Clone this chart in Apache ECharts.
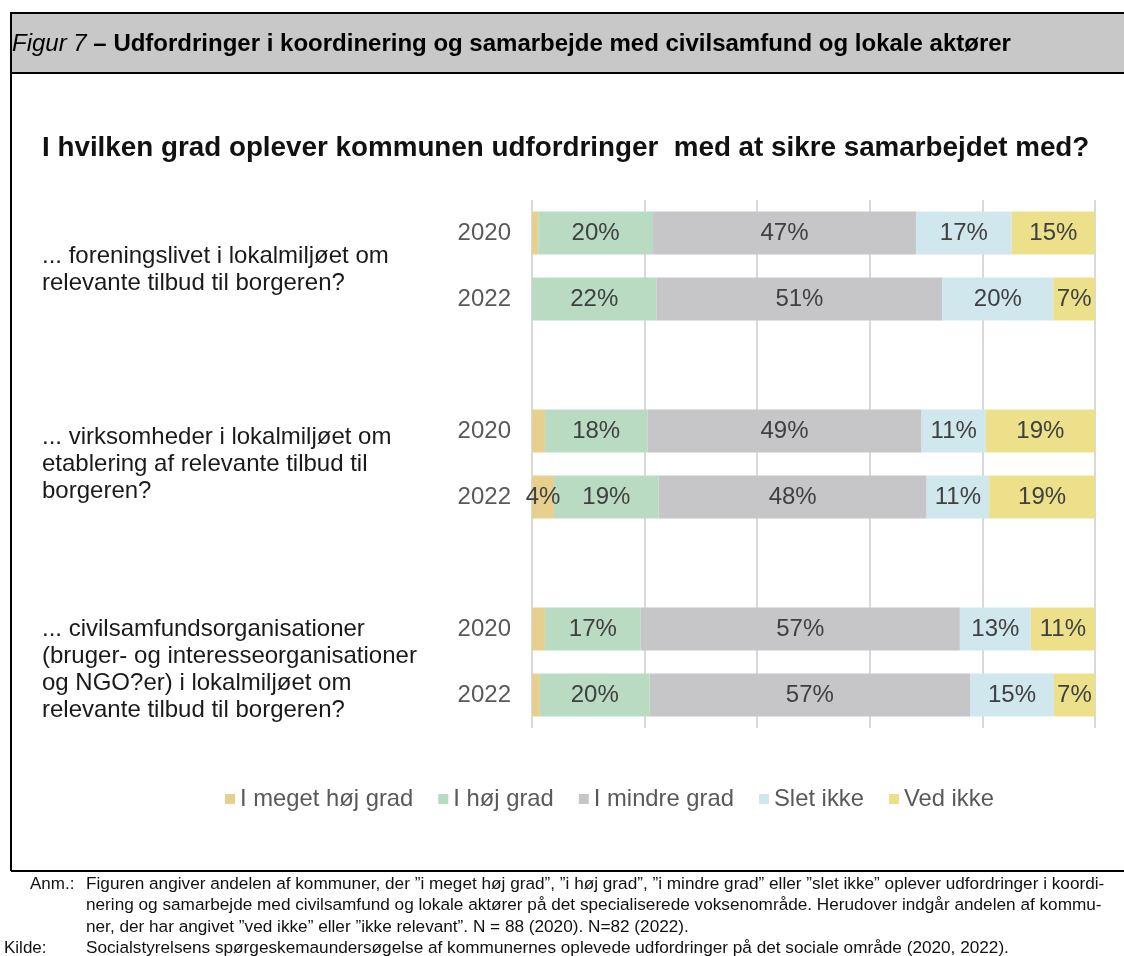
<!DOCTYPE html>
<html>
<head>
<meta charset="utf-8">
<script src="https://cdn.jsdelivr.net/npm/echarts@6/dist/echarts.min.js"></script>
<style>
html,body{margin:0;padding:0;background:#fff;}
#c{width:1124px;height:956px;}
</style>
</head>
<body>
<div id="c"></div>
<script>
// ---- data ----
const years = ['2020', '2022', '', '2020', '2022', '', '2020', '2022'];
const seriesNames = ['I meget høj grad', 'I høj grad', 'I mindre grad', 'Slet ikke', 'Ved ikke'];
const veryHigh = [1.1, 0, null, 2.3, 3.9, null, 2.3, 1.4];
const high     = [20.4, 22.1, null, 18.2, 18.6, null, 17.0, 19.5];
const lower    = [46.7, 50.8, null, 48.7, 47.6, null, 56.7, 56.9];
const notAtAll = [17.0, 19.7, null, 11.4, 11.1, null, 12.6, 14.9];
const dontKnow = [14.8, 7.4, null, 19.4, 18.8, null, 11.4, 7.3];
const questions = [
  '... foreningslivet i lokalmiljøet om\nrelevante tilbud til borgeren?',
  '... virksomheder i lokalmiljøet om\netablering af relevante tilbud til\nborgeren?',
  '... civilsamfundsorganisationer\n(bruger- og interesseorganisationer\nog NGO?er) i lokalmiljøet om\nrelevante tilbud til borgeren?'
];
const xTicks = [0, 20, 40, 60, 80, 100];
const headerTitle = 'Figur 7';
const headerRest = ' – Udfordringer i koordinering og samarbejde med civilsamfund og lokale aktører';
const chartTitle = 'I hvilken grad oplever kommunen udfordringer  med at sikre samarbejdet med?';
const noteLines = [
  'Figuren angiver andelen af kommuner, der ”i meget høj grad”, ”i høj grad”, ”i mindre grad” eller ”slet ikke” oplever udfordringer i koordi-',
  'nering og samarbejde med civilsamfund og lokale aktører på det specialiserede voksenområde. Herudover indgår andelen af kommu-',
  'ner, der har angivet ”ved ikke” eller ”ikke relevant”. N = 88 (2020). N=82 (2022).'
];
const sourceLine = 'Socialstyrelsens spørgeskemaundersøgelse af kommunernes oplevede udfordringer på det sociale område (2020, 2022).';

// ---- chart ----
const colors = ['#E7D08F', '#B8DBC1', '#C6C6C8', '#D0E7EE', '#ECE08B'];
const FONT = 'Liberation Sans, Arial, sans-serif';
const seriesData = [veryHigh, high, lower, notAtAll, dontKnow];

const chart = echarts.init(document.getElementById('c'), null, {renderer: 'canvas'});

const series = seriesNames.map((name, i) => ({
  name: name,
  type: 'bar',
  stack: 'total',
  barWidth: 43,
  data: seriesData[i],
  itemStyle: {color: colors[i]},
  label: {
    show: true,
    position: 'inside',
    fontFamily: FONT,
    fontSize: 24,
    color: '#404040',
    formatter: p => (p.value == null || p.value < 3) ? '' : Math.round(p.value) + '%'
  },
  emphasis: {disabled: true}
}));

const qCenters = [269.5, 464.5, 669.5];
const txt = (x, y, text, size, extra) => ({
  type: 'text', x: x, y: y,
  style: Object.assign({text: text, fontFamily: FONT, fontSize: size, fill: '#111', verticalAlign: 'middle', align: 'left'}, extra || {})
});
const graphics = [
  {type: 'rect', shape: {x: 11, y: 13, width: 1120, height: 60}, style: {fill: '#C8C8C8', stroke: '#000', lineWidth: 2}, z: 0},
  {type: 'line', shape: {x1: 11, y1: 73, x2: 11, y2: 871}, style: {stroke: '#000', lineWidth: 2}},
  {type: 'line', shape: {x1: 11, y1: 871, x2: 1124, y2: 871}, style: {stroke: '#000', lineWidth: 2}},
  {type: 'text', x: 12, y: 44, z: 5, style: {
    text: '{i|' + headerTitle + '}{b|' + headerRest + '}',
    verticalAlign: 'middle',
    rich: {
      i: {fontFamily: FONT, fontSize: 24, fontStyle: 'italic', fill: '#000'},
      b: {fontFamily: FONT, fontSize: 24, fontWeight: 'bold', fill: '#000'}
    }
  }},
  txt(42, 148, chartTitle, 27.8, {fontWeight: 'bold', fill: '#111'}),
  txt(30, 884, 'Anm.:', 17),
  txt(4, 948, 'Kilde:', 17),
  txt(86, 948, sourceLine, 17.2)
];
noteLines.forEach((t, i) => {
  graphics.push(txt(86, 884 + i * 21.5, t, 17.2));
});
questions.forEach((q, i) => {
  graphics.push(txt(42, qCenters[i], q, 24, {lineHeight: 27, fill: '#1a1a1a'}));
});

chart.setOption({
  animation: false,
  backgroundColor: '#fff',
  grid: {left: 532, top: 200, width: 563, height: 528, containLabel: false},
  xAxis: {
    type: 'value', min: xTicks[0], max: xTicks[xTicks.length - 1], interval: 20,
    axisLabel: {show: false}, axisLine: {show: false}, axisTick: {show: false},
    splitLine: {show: true, lineStyle: {color: '#D9D9D9', width: 2}}
  },
  yAxis: {
    type: 'category', data: years, inverse: true,
    axisLine: {show: false}, axisTick: {show: false},
    axisLabel: {fontFamily: FONT, fontSize: 24, color: '#595959', margin: 21}
  },
  legend: {
    left: 220, top: 782,
    itemWidth: 10, itemHeight: 10, itemGap: 25, icon: 'rect',
    textStyle: {fontFamily: FONT, fontSize: 23.8, color: '#595959'},
    data: seriesNames
  },
  graphic: graphics,
  series: series
});
</script>
</body>
</html>
